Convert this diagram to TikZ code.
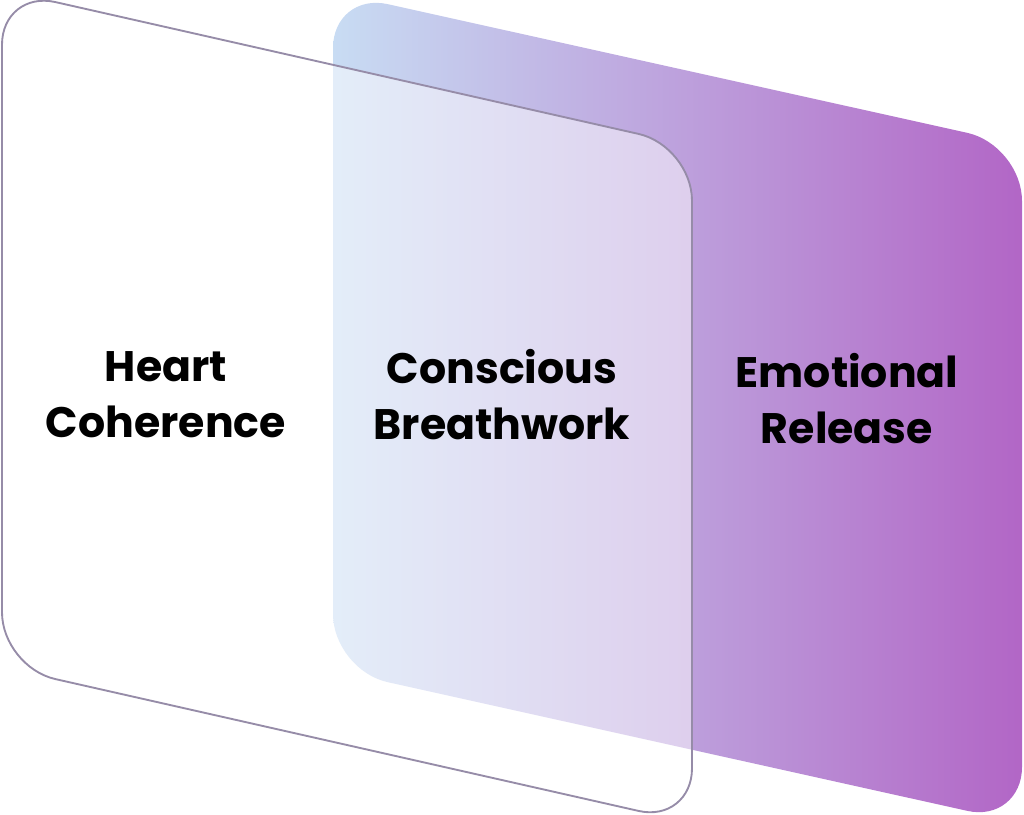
\documentclass[tikz,border=0pt]{standalone}
\usepackage{fontspec}
\setmainfont{Poppins}
\definecolor{backleft}{HTML}{C8DCF3}
\definecolor{backright}{HTML}{B266C6}
\definecolor{outline}{HTML}{968CA8}
\begin{document}
\begin{tikzpicture}[x=0.75pt,y=-0.75pt,
  lbl/.style={align=center,text=black,font=\fontsize{32}{42}\selectfont\bfseries,inner sep=0pt}]
\useasboundingbox (0,0) rectangle (1024,814);
% back card
\shade[left color=backleft,right color=backright,rounded corners=42pt]
  (333,-8) -- (1022,145) -- (1022,823) -- (333,670) -- cycle;
% front card
\draw[fill=white,fill opacity=0.5,draw=outline,line width=1.4pt,rounded corners=41pt]
  (2,-10) -- (692,146) -- (692,823) -- (2,667) -- cycle;
\node[lbl] (heart) at (166,395) {Heart\\Coherence};
\node[lbl] (breath) at (502,395) {Conscious\\Breathwork};
\node[lbl] (emo) at (847,399) {Emotional\\Release};
\end{tikzpicture}
\end{document}
